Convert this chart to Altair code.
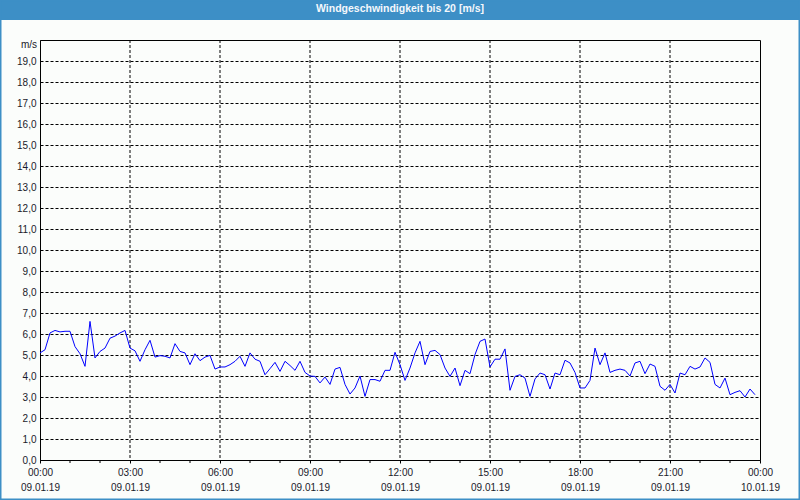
import altair as alt
import pandas as pd

# wind speed readings every 10 minutes, 09.01.19 00:00 .. 23:50 (m/s)
speed = [
    5.1, 5.25, 6.05, 6.17, 6.1, 6.13, 6.13, 5.4, 5.06, 4.46,
    6.6, 4.86, 5.17, 5.33, 5.8, 5.9, 6.05, 6.17, 5.33, 5.2,
    4.7, 5.25, 5.7, 4.9, 4.97, 4.94, 4.86, 5.54, 5.17, 5.1,
    4.54, 5.06, 4.73, 4.9, 4.98, 4.33, 4.43,
    4.43, 4.54, 4.7, 4.94, 4.46, 5.1, 4.8, 4.7, 4.06, 4.35,
    4.65, 4.22, 4.7, 4.5, 4.27, 4.7, 4.17, 4.0, 3.98, 3.67,
    3.95, 3.6, 4.33, 4.41, 3.6, 3.14, 3.43, 4.0, 3.03, 3.83,
    3.83, 3.75, 4.27, 4.27, 5.13, 4.54,
    3.79, 4.38, 5.1, 5.65, 4.54, 5.17, 5.22, 5.02, 4.38, 3.98,
    4.38, 3.54, 4.27, 4.11, 5.02, 5.65, 5.76, 4.43, 4.8, 4.8,
    5.29, 3.32, 3.98, 4.06, 3.9, 3.03, 3.86, 4.14, 4.06, 3.38,
    4.14, 4.06, 4.75, 4.62, 4.17, 3.43,
    3.43, 3.79, 5.33, 4.54, 5.1, 4.17, 4.27, 4.33, 4.27, 4.0,
    4.62, 4.7, 4.11, 4.57, 4.46, 3.51, 3.32, 3.6, 3.19, 4.14,
    4.06, 4.46, 4.33, 4.43, 4.86, 4.65, 3.6, 3.43, 3.9, 3.11,
    3.22, 3.3, 3.0, 3.38, 3.11,
]
hours = [k / 6 for k in range(len(speed))]  # 10-minute steps
grid_hours = [3, 6, 9, 12, 15, 18, 21]
label_hours = [0, 3, 6, 9, 12, 15, 18, 21, 24]
minor_hours = [1, 2, 4, 5, 7, 8, 10, 11, 13, 14, 16, 17, 19, 20, 22, 23]
y_ticks = list(range(20))
title_text = "Windgeschwindigkeit bis 20 [m/s]"
unit_text = "m/s"

BLUE = "#3d8fc6"
FONT = "Liberation Sans"
LABEL_COLOR = "#1a1a2a"
DASH = [3, 2]

df = pd.DataFrame({"h": hours, "v": speed})
gdf = pd.DataFrame({"h": grid_hours})
mdf = pd.DataFrame({"h": minor_hours})
one = alt.Data(values=[{}])

xscale = alt.Scale(domain=[0, 24], nice=False, zero=False)
yscale = alt.Scale(domain=[0, 20], nice=False)

x_label_expr = (
    "[(datum.value % 24 < 10 ? '0' : '') + (datum.value % 24) + ':00', "
    "datum.value == 24 ? '10.01.19' : '09.01.19']"
)

vgrid = alt.Chart(gdf).mark_rule(color="black", strokeDash=DASH, strokeWidth=1).encode(
    x=alt.X("h:Q", scale=xscale)
)

minor = alt.Chart(mdf).mark_rule(color="black", strokeWidth=1).encode(
    x=alt.X("h:Q", scale=xscale), y=alt.value(420), y2=alt.value(423)
)

line = alt.Chart(df).mark_line(color="#0000ff", strokeWidth=1).encode(
    x=alt.X(
        "h:Q",
        scale=xscale,
        axis=alt.Axis(
            values=label_hours,
            labelExpr=x_label_expr,
            tickSize=3,
            tickColor="black",
            domainColor="black",
            labelPadding=4,
            labelLineHeight=15,
            labelFont=FONT,
            labelFontSize=10,
            labelColor=LABEL_COLOR,
            labelOverlap=False,
            labelFlush=False,
            grid=False,
            title=None,
        ),
    ),
    y=alt.Y(
        "v:Q",
        scale=yscale,
        axis=alt.Axis(
            values=y_ticks,
            labelExpr="replace(format(datum.value, '.1f'), '.', ',')",
            ticks=False,
            labelPadding=4,
            labelFont=FONT,
            labelFontSize=10,
            labelColor=LABEL_COLOR,
            labelOverlap=False,
            domainColor="black",
            grid=True,
            gridColor="black",
            gridDash=DASH,
            gridOpacity=1,
            gridWidth=1,
            title=None,
        ),
    ),
)

unit = alt.Chart(one).mark_text(
    text=unit_text, align="right", baseline="middle", font=FONT, fontSize=10, color=LABEL_COLOR
).encode(x=alt.value(-3), y=alt.value(5))

bar = alt.Chart(one).mark_rect(color=BLUE).encode(
    x=alt.value(-40), x2=alt.value(760), y=alt.value(-40), y2=alt.value(-20)
)
frame = alt.Chart(one).mark_rect(fill=None, stroke=BLUE, strokeWidth=1.5, fillOpacity=0).encode(
    x=alt.value(-39.25), x2=alt.value(759.25), y=alt.value(-39.25), y2=alt.value(459.25)
)
title = alt.Chart(one).mark_text(
    text=title_text, align="center", baseline="middle", font=FONT, fontSize=10.5,
    fontWeight="bold", color="#f4f8fc"
).encode(x=alt.value(360), y=alt.value(-31))

chart = (
    alt.layer(bar, frame, title, vgrid, minor, line, unit)
    .properties(
        width=720,
        height=420,
        autosize=alt.AutoSizeParams(type="none"),
        padding={"left": 40, "top": 40, "right": 40, "bottom": 40},
        background="#fbfdfb",
    )
    .configure_view(stroke="black", strokeWidth=1)
)

chart.save("out.html", embed_options={"renderer": "svg", "actions": False})
